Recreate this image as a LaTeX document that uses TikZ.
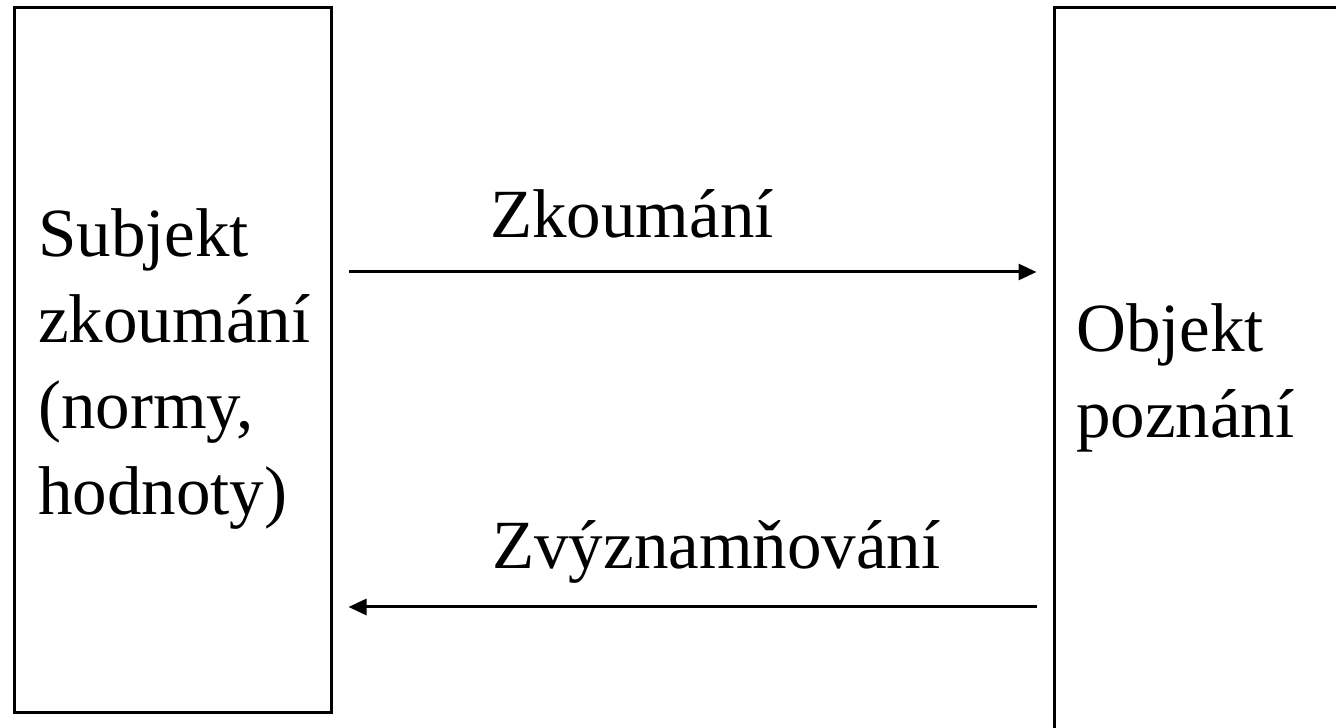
\documentclass[tikz,border=0pt]{standalone}
\usepackage{fontspec}
\setmainfont{Liberation Serif}
\usetikzlibrary{arrows.meta}
\tikzset{
  frame/.style={draw, line width=3pt, inner sep=0pt},
  txt/.style={anchor=base west, inner sep=0pt, align=left, font=\fontsize{69}{86}\selectfont},
  link/.style={line width=3pt, -{Triangle[length=18pt,width=16pt]}, shorten <=16pt, shorten >=16pt}
}
\begin{document}
\begin{tikzpicture}[x=1pt,y=1pt]
  \clip (0,0) rectangle (1336,728);

  % the two boxes (right one runs off the page)
  \node[frame, minimum width=317pt, minimum height=705pt] (subj) at (172.5,367.5) {};
  \node[frame, minimum width=320pt, minimum height=760pt] (obj) at (1214,340) {};

  % box texts (anchored on the last line)
  \node[txt] (subjtxt) at (38,213) {Subjekt\\zkoumání\\(normy,\\hodnoty)};
  \node[txt] (objtxt) at (1076,290) {Objekt\\poznání};

  % arrow labels
  \node[txt] (fwdtxt) at (490,490) {Zkoumání};
  \node[txt] (backtxt) at (492,159) {Zvýznamňování};

  % arrows
  \coordinate (fwd) at (0,456);
  \coordinate (back) at (0,121);
  \draw[link] (subj.east |- fwd) -- (obj.west |- fwd);
  \draw[link] (obj.west |- back) -- (subj.east |- back);
\end{tikzpicture}
\end{document}
